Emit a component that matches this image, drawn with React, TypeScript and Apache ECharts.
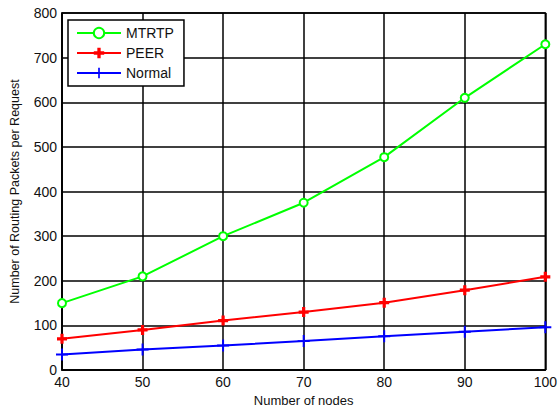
import React, { useEffect, useRef } from "react";
import * as echarts from "echarts";

const nodes = [40, 50, 60, 70, 80, 90, 100];
const mtrtp = [150, 210, 300, 375, 477, 610, 730];
const peer = [70, 90, 111, 130, 151, 179, 209];
const normal = [35, 46, 55, 65, 76, 86, 96];

const plusThin = "path://M0.42,0H0.58V0.42H1V0.58H0.58V1H0.42V0.58H0V0.42H0.42Z";
const plusThick = "path://M0.34,0H0.66V0.34H1V0.66H0.66V1H0.34V0.66H0V0.34H0.34Z";

export default function App() {
  const ref = useRef<HTMLDivElement>(null);
  useEffect(() => {
    if (!ref.current) return;
    const chart = echarts.init(ref.current, undefined, { renderer: "svg" });
    const font = "'Liberation Sans', Arial, sans-serif";
    const txt = "#111";
    chart.setOption({
      animation: false,
      backgroundColor: "#fff",
      textStyle: { fontFamily: font },
      grid: { left: 58, right: 12, top: 13, bottom: 38, show: true, borderColor: "#000", borderWidth: 1.5 },
      legend: {
        orient: "vertical",
        left: 68,
        top: 20,
        width: 114,
        padding: [6, 10, 6, 8],
        itemGap: 6,
        itemWidth: 44,
        itemHeight: 13,
        backgroundColor: "#fff",
        borderColor: "#000",
        borderWidth: 1.5,
        textStyle: { fontFamily: font, fontSize: 14, color: txt },
        data: ["MTRTP", "PEER", "Normal"],
      },
      xAxis: {
        type: "value",
        min: 40,
        max: 100,
        interval: 10,
        name: "Number of nodes",
        nameLocation: "middle",
        nameGap: 23,
        nameTextStyle: { fontFamily: font, fontSize: 13, color: txt },
        axisLine: { show: true, lineStyle: { color: "#000", width: 1.5 } },
        axisTick: { show: false },
        axisLabel: { fontFamily: font, fontSize: 14, color: txt, margin: 5 },
        splitLine: { show: true, lineStyle: { color: "#000", width: 1.5 } },
      },
      yAxis: {
        type: "value",
        min: 0,
        max: 800,
        interval: 100,
        name: "Number of Routing Packets per Request",
        nameLocation: "middle",
        nameGap: 41,
        nameTextStyle: { fontFamily: font, fontSize: 12.5, color: txt },
        axisLine: { show: true, lineStyle: { color: "#000", width: 1.5 } },
        axisTick: { show: false },
        axisLabel: { fontFamily: font, fontSize: 14, color: txt, margin: 5 },
        splitLine: { show: true, lineStyle: { color: "#000", width: 1.5 } },
      },
      series: [
        {
          name: "MTRTP",
          type: "line",
          data: nodes.map((n, i) => [n, mtrtp[i]]),
          symbol: "emptyCircle",
          symbolSize: 8,
          showAllSymbol: true,
          color: "#00ff00",
          lineStyle: { color: "#00ff00", width: 2 },
          itemStyle: { color: "#00ff00", borderWidth: 2 },
        },
        {
          name: "PEER",
          type: "line",
          data: nodes.map((n, i) => [n, peer[i]]),
          symbol: plusThick,
          symbolSize: 10,
          color: "#ff0000",
          lineStyle: { color: "#ff0000", width: 2 },
          itemStyle: { color: "#ff0000" },
        },
        {
          name: "Normal",
          type: "line",
          data: nodes.map((n, i) => [n, normal[i]]),
          symbol: plusThin,
          symbolSize: 12,
          color: "#0000ff",
          lineStyle: { color: "#0000ff", width: 2 },
          itemStyle: { color: "#0000ff" },
        },
      ],
    });
    return () => chart.dispose();
  }, []);
  return <div ref={ref} style={{ width: 560, height: 412, position: "absolute", left: 0, top: 0 }} />;
}
